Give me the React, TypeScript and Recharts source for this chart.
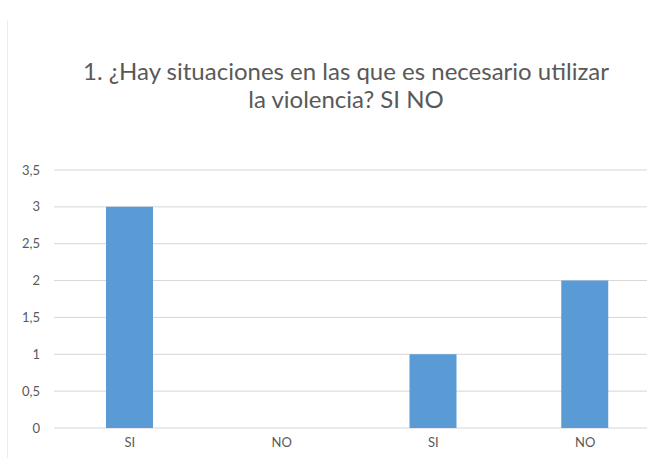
import { BarChart, Bar, XAxis, YAxis, CartesianGrid } from "recharts";

const categories = ["SI", "NO", "SI", "NO"];
const values = [3, 0, 1, 2];
const yTicks = [0, 0.5, 1, 1.5, 2, 2.5, 3, 3.5];
const titleLines = [
  "1. ¿Hay situaciones en las que es necesario utilizar",
  "la violencia? SI NO",
];

const data = categories.map((c, i) => ({ key: i, label: c, value: values[i] }));

const font = "Lato, 'Open Sans', sans-serif";

export default function App() {
  return (
    <div
      style={{
        position: "fixed",
        left: 0,
        top: 0,
        width: 647,
        height: 458,
        overflow: "hidden",
        background: "#fff",
        fontFamily: font,
      }}
    >
      {/* faint frame edge on the left */}
      <div
        style={{
          position: "absolute",
          left: 7,
          top: 20,
          width: 0,
          height: 440,
          borderLeft: "1px solid #ececec",
        }}
      />
      <div
        style={{
          position: "absolute",
          left: 0,
          top: 57,
          width: 692,
          textAlign: "center",
          fontSize: 24,
          lineHeight: "28px",
          color: "#595959",
        }}
      >
        {titleLines.map((t) => (
          <div key={t}>{t}</div>
        ))}
      </div>
      <div style={{ position: "absolute", left: 0, top: 0 }}>
        <BarChart
          width={661}
          height={458}
          data={data}
          margin={{ top: 170, right: 0, left: 0, bottom: 0 }}
        >
          <CartesianGrid vertical={false} stroke="#d6d6d6" />
          <XAxis
            dataKey="key"
            tickFormatter={(i) => categories[i]}
            axisLine={false}
            tickLine={false}
            tickMargin={4}
            height={30}
            tick={{ fontSize: 13, fill: "#595959", fontFamily: font }}
          />
          <YAxis
            width={54}
            domain={[0, 3.5]}
            ticks={yTicks}
            axisLine={false}
            tickLine={false}
            tickMargin={8}
            tickFormatter={(v) => String(v).replace(".", ",")}
            tick={{ fontSize: 13, fill: "#595959", fontFamily: font }}
          />
          <Bar dataKey="value" fill="#5b9bd5" barSize={47} isAnimationActive={false} />
        </BarChart>
      </div>
    </div>
  );
}
